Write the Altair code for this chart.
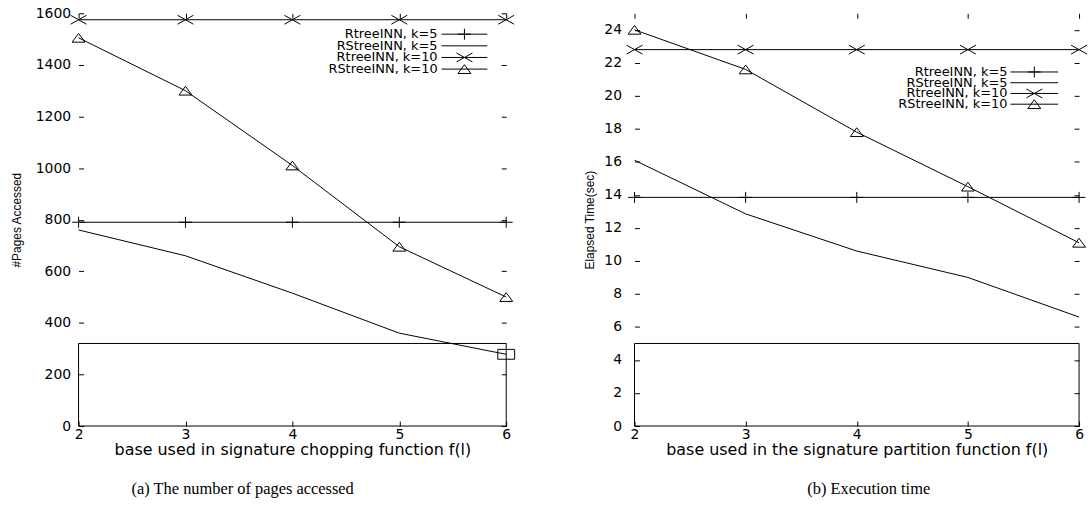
import altair as alt
import pandas as pd

# ---------------- data ----------------
x_vals = [2, 3, 4, 5, 6]
series_names = ["RtreeINN, k=5", "RStreeINN, k=5", "RtreeINN, k=10", "RStreeINN, k=10"]
marker_series = ["RtreeINN, k=5", "RtreeINN, k=10", "RStreeINN, k=10"]

pages_rtree_k5 = [790, 790, 790, 790, 790]
pages_rstree_k5 = [760, 660, 515, 360, 278]
pages_rtree_k10 = [1575, 1575, 1575, 1575, 1575]
pages_rstree_k10 = [1505, 1300, 1010, 695, 500]

time_rtree_k5 = [13.85, 13.85, 13.85, 13.85, 13.85]
time_rstree_k5 = [16.1, 12.85, 10.6, 9.0, 6.6]
time_rtree_k10 = [22.8, 22.8, 22.8, 22.8, 22.8]
time_rstree_k10 = [24.0, 21.6, 17.8, 14.5, 11.1]

pages_ticks = [0, 200, 400, 600, 800, 1000, 1200, 1400, 1600]
time_ticks = [0, 2, 4, 6, 8, 10, 12, 14, 16, 18, 20, 22, 24]
x_ticks = [2, 3, 4, 5, 6]

pages_box = {"x0": [2], "x1": [6], "y0": [0], "y1": [320]}
time_box = {"x0": [2], "x1": [6], "y0": [0], "y1": [5]}
pages_square_x = [6]
pages_square_y = [278]

# ---------------- marker shapes (gnuplot-like, wide) ----------------
PLUS = "M-0.81,0L0.81,0M0,-0.69L0,0.69"
XMARK = "M-1,-0.56L1,0.56M-1,0.56L1,-0.56"
TRIANGLE = "M0,-0.55L0.81,0.55L-0.81,0.55Z"
SQUARE = "M-1.06,-0.62L1.06,-0.62L1.06,0.62L-1.06,0.62Z"
MSIZE = 256

shape_scale = alt.Scale(domain=marker_series, range=[PLUS, XMARK, TRIANGLE])

SANS = "DejaVu Sans"
SERIF = "Liberation Serif"


def long_df(lists):
    rows = []
    for name, vals in zip(series_names, lists):
        for xv, yv in zip(x_vals, vals):
            rows.append({"x": xv, "y": yv, "series": name})
    return pd.DataFrame(rows)


def panel(lists, yticks, ymax, box, xtitle, ytitle, caption, width, height,
          label_pad, title_pad, leg_text_x, leg_x0, leg_x1, leg_y0, leg_dy,
          cap_dx, square=None):
    df = long_df(lists)
    xscale = alt.Scale(domain=[2, 6], nice=False, zero=False)
    yscale = alt.Scale(domain=[0, ymax], nice=False, zero=False)

    x_axis = alt.Axis(orient="bottom", values=x_ticks, format="d", offset=-5,
                      tickSize=5, tickColor="black", domain=False, grid=False,
                      labelFlush=False, labelPadding=2, labelFont=SANS,
                      labelFontSize=14, labelColor="black", title=xtitle,
                      titleFont=SANS, titleFontSize=16, titleFontWeight="normal",
                      titleColor="black", titlePadding=0)
    y_axis = alt.Axis(orient="left", values=yticks, format="d", offset=-5,
                      tickSize=5, tickColor="black", domain=False, grid=False,
                      labelPadding=label_pad, labelFont=SANS, labelFontSize=14,
                      labelColor="black", title=ytitle, titleFont="Liberation Sans",
                      titleFontSize=12, titleFontWeight="normal",
                      titleColor="black", titlePadding=title_pad)
    top_axis = alt.Axis(orient="top", values=x_ticks, labels=False, offset=-5,
                        tickSize=5, tickColor="black", domain=False, grid=False,
                        title=None)
    right_axis = alt.Axis(orient="right", values=yticks, labels=False, offset=-5,
                          tickSize=5, tickColor="black", domain=False, grid=False,
                          title=None)

    lines = alt.Chart(df).mark_line(color="black", strokeWidth=1).encode(
        x=alt.X("x:Q", scale=xscale, axis=x_axis),
        y=alt.Y("y:Q", scale=yscale, axis=y_axis),
        detail="series:N",
    )

    pts = alt.Chart(df).transform_filter(
        alt.FieldOneOfPredicate(field="series", oneOf=marker_series)
    ).mark_point(filled=False, color="black", strokeWidth=1, size=MSIZE, opacity=1).encode(
        x=alt.X("x:Q", scale=xscale, axis=None),
        y=alt.Y("y:Q", scale=yscale, axis=None),
        shape=alt.Shape("series:N", scale=shape_scale, legend=None),
    )

    boxc = alt.Chart(pd.DataFrame(box)).mark_rect(
        fillOpacity=0, stroke="black", strokeWidth=1
    ).encode(
        x=alt.X("x0:Q", scale=xscale, axis=top_axis),
        x2="x1:Q",
        y=alt.Y("y0:Q", scale=yscale, axis=right_axis),
        y2="y1:Q",
    )

    ldf = pd.DataFrame({"series": series_names, "row": list(range(len(series_names)))})
    lb = alt.Chart(ldf).transform_calculate(ly=f"{leg_y0} + datum.row * {leg_dy}")
    ltext = lb.mark_text(align="right", baseline="middle", font=SANS,
                         fontSize=13, color="black").encode(
        x=alt.value(leg_text_x),
        y=alt.Y("ly:Q", scale=None, axis=None),
        text="series:N",
    )
    lrule = lb.mark_rule(color="black", strokeWidth=1).encode(
        x=alt.value(leg_x0), x2=alt.value(leg_x1),
        y=alt.Y("ly:Q", scale=None, axis=None),
    )
    lpts = lb.transform_filter(
        alt.FieldOneOfPredicate(field="series", oneOf=marker_series)
    ).mark_point(filled=False, color="black", strokeWidth=1, size=MSIZE, opacity=1).encode(
        x=alt.value((leg_x0 + leg_x1) / 2),
        y=alt.Y("ly:Q", scale=None, axis=None),
        shape=alt.Shape("series:N", scale=shape_scale, legend=None),
    )

    layers = [boxc, lines, pts, lrule, lpts, ltext]
    if square is not None:
        sq = alt.Chart(pd.DataFrame({"x": square[0], "y": square[1]})).mark_point(
            shape=SQUARE, filled=False, color="black", strokeWidth=1, size=MSIZE, opacity=1
        ).encode(
            x=alt.X("x:Q", scale=xscale, axis=None),
            y=alt.Y("y:Q", scale=yscale, axis=None),
        )
        layers.append(sq)

    return alt.layer(*layers).resolve_axis(x="independent", y="independent").properties(
        width=width, height=height,
        title=alt.TitleParams(text=caption, orient="bottom", anchor="middle",
                              frame="group", dx=cap_dx, offset=23, font=SERIF,
                              fontSize=16.5, fontWeight="normal", color="black"),
    )


left = panel(
    [pages_rtree_k5, pages_rstree_k5, pages_rtree_k10, pages_rstree_k10],
    pages_ticks, 1600, pages_box,
    "base used in signature chopping function f(l)", "#Pages Accessed",
    "(a) The number of pages accessed", 430, 415,
    label_pad=8, title_pad=12,
    leg_text_x=361, leg_x0=365, leg_x1=411, leg_y0=21, leg_dy=11.7,
    cap_dx=-50, square=(pages_square_x, pages_square_y),
)

right = panel(
    [time_rtree_k5, time_rstree_k5, time_rtree_k10, time_rstree_k10],
    time_ticks, 25, time_box,
    "base used in the signature partition function f(l)", "Elapsed Time(sec)",
    "(b) Execution time", 447, 415,
    label_pad=13, title_pad=7,
    leg_text_x=375, leg_x0=378, leg_x1=426, leg_y0=59, leg_dy=10.8,
    cap_dx=12,
)

chart = alt.hconcat(left, right, spacing=67).properties(
    padding={"left": 10, "top": 5, "right": 0, "bottom": 0},
    background="white",
).configure_view(strokeWidth=0)

chart.save("out.html", embed_options={"renderer": "svg", "actions": False})
